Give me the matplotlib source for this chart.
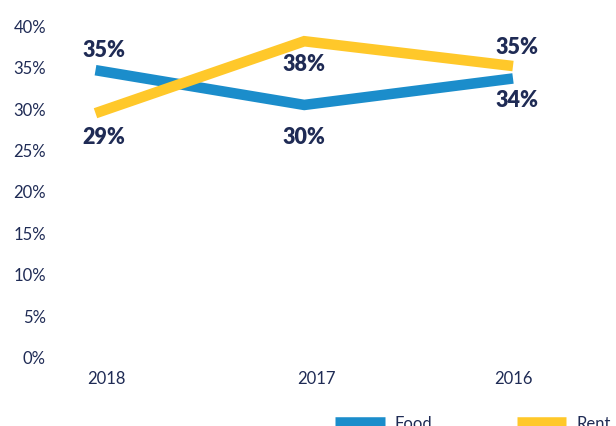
import matplotlib
matplotlib.use("Agg")
import matplotlib.pyplot as plt
from matplotlib.lines import Line2D
from matplotlib.transforms import ScaledTranslation

# Data
years = ["2018", "2017", "2016"]
food = [0.346, 0.304, 0.336]
rent = [0.294, 0.381, 0.351]
y_ticks = [0.0, 0.05, 0.10, 0.15, 0.20, 0.25, 0.30, 0.35, 0.40]
series_names = ["Food", "Rent"]

# Styling
BLUE = "#1b8dcb"
YELLOW = "#ffc82a"
NAVY = "#1f2b55"
FONT = ["Lato", "DejaVu Sans"]
LW = 7.6  # points

plt.rcParams["font.family"] = FONT

fig = plt.figure(figsize=(6.16, 4.27), dpi=100)
ax = fig.add_axes([53.75 / 616, 1 - 357.5 / 427, 542.75 / 616, 331 / 427])

x = list(range(len(years)))
for vals, color in ((food, BLUE), (rent, YELLOW)):
    ax.plot(x, vals, color=color, lw=LW, solid_capstyle="butt",
            solid_joinstyle="miter", zorder=2)

ax.set_xlim(-0.2, 2.4)
ax.set_ylim(0, 0.4)
ax.set_yticks(y_ticks)
ax.set_yticklabels([f"{round(t * 100)}%" for t in y_ticks])
ax.set_xticks(x)
ax.set_xticklabels(years)
ax.tick_params(axis="both", length=0, colors=NAVY, labelsize=12)
ax.tick_params(axis="y", pad=5.6)
ax.tick_params(axis="x", pad=10)
for sp in ax.spines.values():
    sp.set_visible(False)

# nudge the year labels
for lab, dx in zip(ax.get_xticklabels(), [11, 12, 0]):
    lab.set_transform(lab.get_transform() + ScaledTranslation(dx / 100, 0, fig.dpi_scale_trans))

# value labels (offsets in points)
food_off = [(6, 15), (0, -23), (3, -15)]
rent_off = [(6, -17), (0, -16), (3, 14)]
for vals, offs in ((food, food_off), (rent, rent_off)):
    for xi, v, (dx, dy) in zip(x, vals, offs):
        ax.annotate(f"{round(v * 100)}%", (xi, v), xytext=(dx, dy),
                    textcoords="offset points", ha="center", va="center",
                    fontsize=15.5, fontweight="heavy", color=NAVY, zorder=3)

handles = [Line2D([], [], color=BLUE, lw=LW, solid_capstyle="butt"),
           Line2D([], [], color=YELLOW, lw=LW, solid_capstyle="butt")]
fig.legend(handles, series_names, loc="center", bbox_to_anchor=(473 / 616, 1 - 424 / 427),
           ncol=2, frameon=False, fontsize=12, labelcolor=NAVY, borderpad=0,
           handlelength=2.95, handletextpad=0.6, columnspacing=5.1)

fig.savefig("out.png", dpi=100)
